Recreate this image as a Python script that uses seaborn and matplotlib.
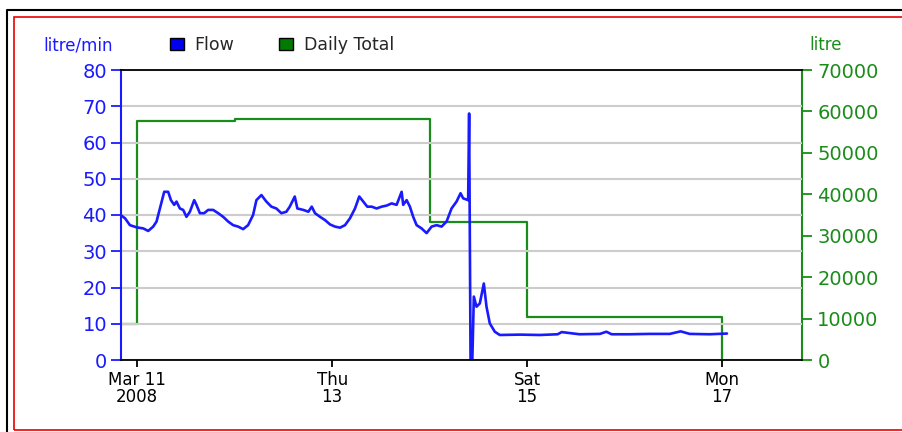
#Importing Libraries and default settings
import pandas as pd
import matplotlib
matplotlib.use("Agg")
import matplotlib.pyplot as plt
import matplotlib.dates as mdates
from matplotlib.patches import Rectangle, Patch
from matplotlib.lines import Line2D
import seaborn as sns
sns.set_style("white")
plt.rcParams["font.family"] = ["DejaVu Sans"]

#Chart data
start = pd.Timestamp("2008-03-11 00:00")

# Flow: hours after Mar 11 00:00 and litre/min
flow_hours = [
    -3.86, -3.02, -1.80, -0.17, 1.48, 2.70, 3.93, 4.75, 5.58, 6.64,
    7.62, 8.29, 9.10, 9.66, 10.50, 11.31, 12.12, 12.96, 14.02, 14.58,
    15.42, 16.48, 17.46, 18.69, 19.92, 21.15, 22.38, 23.61, 24.84, 26.07,
    27.29, 28.52, 29.34, 30.57, 31.79, 33.02, 34.25, 35.48, 36.71, 37.55,
    38.78, 39.42, 40.89, 42.12, 42.96, 43.77, 45.00, 46.23, 47.46, 48.69,
    49.92, 51.15, 52.38, 53.61, 54.66, 55.65, 56.63, 57.71, 58.94, 60.17,
    61.40, 62.63, 63.86, 65.09, 65.48, 66.32, 67.13, 67.94, 68.78, 70.01,
    71.24, 72.47, 73.70, 74.93, 76.16, 77.38, 78.61, 79.60, 80.24, 81.47,
    81.71, 82.06, 82.50, 82.87, 83.53, 84.34, 85.33, 85.99, 86.80, 88.03,
    89.26, 94.2, 99.1, 103.5, 104.5, 108.9, 113.9, 115.5, 116.8, 121.2,
    126.1, 131.1, 133.8, 136.0, 140.9, 145.2,
]
flow_values = [
    39.8, 39.1, 37.2, 36.6, 36.3, 35.6, 36.8, 38.2, 41.8, 46.4,
    46.4, 44.1, 42.8, 43.7, 41.8, 41.4, 39.5, 40.9, 44.1, 42.8,
    40.5, 40.5, 41.4, 41.4, 40.5, 39.5, 38.2, 37.2, 36.8, 36.1,
    37.2, 40.0, 44.1, 45.5, 43.7, 42.3, 41.8, 40.5, 40.9, 42.3,
    45.1, 41.8, 41.4, 40.9, 42.3, 40.5, 39.5, 38.6, 37.4, 36.8,
    36.5, 37.2, 39.1, 41.8, 45.1, 43.7, 42.3, 42.3, 41.8, 42.3,
    42.6, 43.2, 42.8, 46.4, 42.8, 44.1, 42.3, 39.5, 37.2, 36.3,
    35.0, 36.8, 37.2, 36.8, 38.2, 41.8, 43.7, 46.0, 44.6, 44.1,
    68.0, 0.0, 0.0, 17.5, 14.7, 15.6, 21.1, 14.7, 10.1, 7.8,
    6.9, 7.0, 6.9, 7.1, 7.7, 7.1, 7.2, 7.8, 7.1, 7.1,
    7.2, 7.2, 7.9, 7.2, 7.1, 7.3,
]

# Daily total in litres, one step per day
total_days = ["2008-03-10", "2008-03-11", "2008-03-12", "2008-03-13",
              "2008-03-14", "2008-03-15", "2008-03-16", "2008-03-17"]
total_litres = [8750, 57700, 58200, 58200, 33200, 10400, 10400, 0]

tick_days = ["2008-03-11", "2008-03-13", "2008-03-15", "2008-03-17"]
tick_labels = ["Mar 11\n2008", "Thu\n13", "Sat\n15", "Mon\n17"]

flow_df = pd.DataFrame({
    "time": start + pd.to_timedelta(flow_hours, unit="h"),
    "flow": flow_values,
})
total_df = pd.DataFrame({"day": pd.to_datetime(total_days), "litres": total_litres})

blue = "#1a1aff"
green = "#1a8c1a"

#Figure and axes
fig = plt.figure(figsize=(9.03, 4.32), dpi=100)
ax = fig.add_axes([121 / 903, 72 / 432, 681 / 903, 290 / 432])
ax2 = ax.twinx()

sns.lineplot(data=total_df, x="day", y="litres", ax=ax2, color=green,
             linewidth=1.6, drawstyle="steps-post")
sns.lineplot(data=flow_df, x="time", y="flow", ax=ax, color=blue, linewidth=1.9)

# flow line drawn above the daily total
ax.set_zorder(ax2.get_zorder() + 1)
ax.patch.set_visible(False)

ax.set_xlim(pd.Timestamp("2008-03-10 20:00"), pd.Timestamp("2008-03-17 19:40"))
ax.set_ylim(0, 80)
ax2.set_ylim(0, 70000)
ax.set_yticks(range(0, 81, 10))
ax2.set_yticks(range(0, 70001, 10000))
ax.set_xticks(mdates.date2num(pd.to_datetime(tick_days)))
ax.set_xticklabels(tick_labels, linespacing=0.95)
ax.set_xlabel("")
ax.set_ylabel("")
ax2.set_xlabel("")
ax2.set_ylabel("")

ax.yaxis.grid(True, color="#cccccc", linewidth=1.5)
ax.xaxis.grid(False)

ax.tick_params(axis="y", left=True, colors=blue, labelsize=14, length=7, width=1.3, pad=3)
ax.tick_params(axis="x", bottom=True, colors="black", labelsize=12, length=5, width=1.3, pad=3)
ax2.tick_params(axis="y", right=True, colors=green, labelsize=14, length=7, width=1.3, pad=4)

for side in ["top", "bottom"]:
    ax.spines[side].set_color("black")
    ax.spines[side].set_linewidth(1.3)
ax.spines["left"].set_color(blue)
ax.spines["left"].set_linewidth(1.5)
ax.spines["right"].set_visible(False)
ax2.spines["right"].set_color(green)
ax2.spines["right"].set_linewidth(1.5)
for side in ["left", "top", "bottom"]:
    ax2.spines[side].set_visible(False)

#Units and legend
fig.text(43 / 903, 1 - 45 / 432, "litre/min", color=blue, fontsize=12, va="center")
fig.text(809 / 903, 1 - 45 / 432, "litre", color=green, fontsize=12, va="center")
handles = [
    Patch(facecolor="#0000ee", edgecolor="black", label="Flow"),
    Patch(facecolor="#007a00", edgecolor="black", label="Daily Total"),
]
fig.legend(handles=handles, ncol=2, loc="center left", bbox_to_anchor=(158 / 903, 1 - 45 / 432),
           frameon=False, fontsize=12.5, handlelength=0.8, handleheight=0.65,
           handletextpad=0.6, columnspacing=2.6, borderpad=0.2)

#Frame lines
fig.add_artist(Line2D([7 / 903, 7 / 903, 1.0], [0.0, 1 - 10 / 432, 1 - 10 / 432],
                      transform=fig.transFigure, color="black", linewidth=1.5))
fig.add_artist(Rectangle((14 / 903, 1 - 430 / 432), 1.0, (430 - 17) / 432,
                         transform=fig.transFigure, fill=False, edgecolor="#ee0000",
                         linewidth=1.2, clip_on=False))

plt.savefig("out.png", dpi=100)
plt.close()
